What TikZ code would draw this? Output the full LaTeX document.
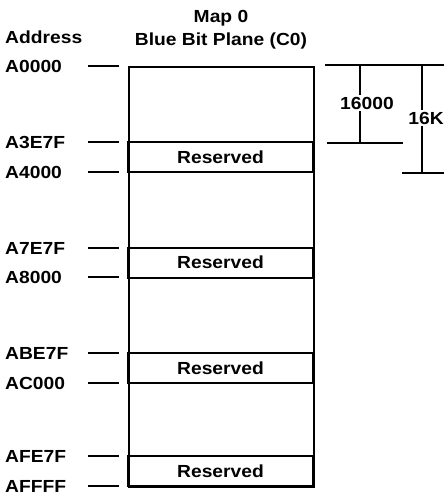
\documentclass[tikz,border=0pt]{standalone}
\usepackage{fontspec}
\setmainfont[FakeStretch=1.1]{Liberation Sans}
\usepackage{tikz}
\usetikzlibrary{positioning,calc}
\tikzset{
  memline/.style={draw=black,line width=2pt},
  resbox/.style={rectangle,draw=black,line width=2pt,minimum width=185pt,
    minimum height=30pt,inner sep=0pt,text centered,font=\bfseries\fontsize{17.5}{20}\selectfont},
  addr/.style={anchor=west,inner sep=0pt,font=\bfseries\fontsize{17.5}{20}\selectfont},
  head/.style={inner sep=0pt,align=center,font=\bfseries\fontsize{17.5}{23.5}\selectfont},
  tick/.style={draw=black,line width=1.4pt},
  dim/.style={draw=black,line width=1.4pt},
  dimlabel/.style={fill=white,inner sep=2pt,font=\bfseries\fontsize{17.5}{20}\selectfont}
}
\begin{document}
\begin{tikzpicture}[x=1pt,y=-1pt]
  \useasboundingbox (0,0) rectangle (444,499);
  % headings
  \node[head] (maphead) at (221,29.5) {Map 0\\Blue Bit Plane (C0)};
  \node[head,anchor=west] (addrhead) at (5,37) {Address};
  % the map itself
  \node[rectangle,memline,minimum width=185pt,minimum height=420pt,inner sep=0pt,anchor=north west] (map) at (128,66) {};
  \foreach \n/\y in {1/157,2/262.5,3/368,4/471}
    \node[resbox] (res\n) at (220.5,\y) {Reserved};
  % addresses
  \foreach \name/\y in {A0000/66,A3E7F/142,A4000/172,A7E7F/248,A8000/277,ABE7F/353,AC000/383,AFE7F/456,AFFFF/486}{
    \node[addr] (a\name) at (5,\y) {\name};
    \coordinate (t\name) at (88,\y);
    \draw[tick] (t\name) -- ++(31,0);
  }
  % size marks
  \coordinate (dtop) at (325,65);
  \coordinate (dtopend) at (444,65);
  \coordinate (dmid) at (327,143);
  \coordinate (dmidend) at (403,143);
  \coordinate (dlow) at (402,173);
  \coordinate (dlowend) at (444,173);
  \draw[dim] (dtop) -- (dtopend);
  \draw[dim] (dmid) -- (dmidend);
  \draw[dim] (dlow) -- (dlowend);
  \draw[dim] (360,65) -- (360,143);
  \draw[dim] (422,65) -- (422,173);
  \node[dimlabel] (d16000) at (367,103) {16000};
  \node[dimlabel] (d16k) at (426,118) {16K};
\end{tikzpicture}
\end{document}
